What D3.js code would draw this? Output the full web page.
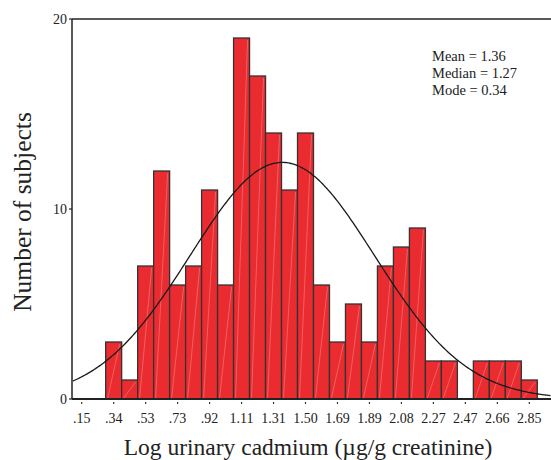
<!DOCTYPE html>
<html>
<head>
<meta charset="utf-8">
<script src="https://cdn.jsdelivr.net/npm/d3@7"></script>
<style>
  body { margin: 0; background: #fff; }
  svg text { font-family: "Liberation Serif", "DejaVu Serif", serif; fill: #222; }
</style>
</head>
<body>
<svg id="chart" width="551" height="460"></svg>
<script>
// histogram of log urinary cadmium, SPSS style with normal curve overlay

// bin centres (step ~0.0964), labels only on every other bin
var binStep = 0.09643;
var binFirst = 0.15;
var counts = [0, 0, 3, 1, 7, 12, 6, 7, 11, 6, 19, 17, 14, 11, 14, 6, 3, 5, 3, 7, 8, 9, 2, 2, 0, 2, 2, 2, 1];
var tickLabels = [".15", ".34", ".53", ".73", ".92", "1.11", "1.31", "1.50", "1.69", "1.89", "2.08", "2.27", "2.47", "2.66", "2.85"];
var yTicks = [0, 10, 20];
var stats = ["Mean = 1.36", "Median = 1.27", "Mode = 0.34"];
var curveMean = 1.36, curveSd = 0.556;

var svg = d3.select("#chart");

// careful: "top" is taken by window.top
var plotL = 72, plotR = 551, plotT = 19, plotB = 399;

// x: value -> px, .15 sits at 81.7 and 2.85 at 529.3
var x = d3.scaleLinear().domain([0.15, 2.85]).range([81.7, 529.3]);
var y = d3.scaleLinear().domain([0, 20]).range([plotB, plotT]);

var bins = counts.map(function(c, i) {
  var mid = binFirst + i * binStep;
  return { x0: mid - binStep / 2, x1: mid + binStep / 2, n: c };
});

// bars
var g = svg.append("g");
bins.filter(function(d) { return d.n > 0; }).forEach(function(d) {
  var bx = x(d.x0), bw = x(d.x1) - x(d.x0), by = y(d.n), bh = y(0) - y(d.n);
  g.append("rect")
    .attr("x", bx).attr("y", by)
    .attr("width", bw).attr("height", bh)
    .attr("fill", "#ea2c30")
    .attr("stroke", "#333").attr("stroke-width", 1.3);
  // faint diagonal seam, like the original rendering
  g.append("line")
    .attr("x1", bx + 2).attr("y1", y(0) - 1)
    .attr("x2", bx + bw - 2).attr("y2", by + 2)
    .attr("stroke", "#fff").attr("stroke-opacity", 0.35).attr("stroke-width", 0.7);
});

// normal curve
var total = d3.sum(counts);
var peak = total * binStep / (curveSd * Math.sqrt(2 * Math.PI));
var xs = d3.range(x.invert(plotL + 1), x.invert(plotR), 0.01);
var line = d3.line()
  .x(function(v) { return x(v); })
  .y(function(v) { var z = (v - curveMean) / curveSd; return y(peak * Math.exp(-z * z / 2)); })
  .curve(d3.curveBasis);
svg.append("path").datum(xs)
  .attr("d", line)
  .attr("fill", "none").attr("stroke", "#1a1a1a").attr("stroke-width", 1.3);

// frame: left axis, top line, bottom axis
svg.append("line").attr("x1", plotL).attr("x2", plotL).attr("y1", plotT).attr("y2", plotB)
  .attr("stroke", "#222").attr("stroke-width", 1.5);
svg.append("line").attr("x1", plotL).attr("x2", plotR).attr("y1", plotT).attr("y2", plotT)
  .attr("stroke", "#222").attr("stroke-width", 1.5);
svg.append("line").attr("x1", plotL).attr("x2", plotR).attr("y1", plotB).attr("y2", plotB)
  .attr("stroke", "#222").attr("stroke-width", 2);

// y ticks
yTicks.forEach(function(t) {
  svg.append("line").attr("x1", plotL - 3).attr("x2", plotL).attr("y1", y(t)).attr("y2", y(t))
    .attr("stroke", "#222").attr("stroke-width", 1.2);
  svg.append("text").attr("x", plotL - 5).attr("y", y(t) + 5)
    .attr("text-anchor", "end").attr("font-size", 14).text(t);
});

// x ticks: every other bin centre
tickLabels.forEach(function(lab, i) {
  var v = binFirst + i * 2 * binStep;
  svg.append("line").attr("x1", x(v)).attr("x2", x(v)).attr("y1", plotB + 3).attr("y2", plotB + 5)
    .attr("stroke", "#333").attr("stroke-width", 1.2);
  svg.append("text").attr("x", x(v)).attr("y", 423)
    .attr("text-anchor", "middle").attr("font-size", 14).text(lab);
});

// axis titles
svg.append("text").attr("x", 308).attr("y", 455)
  .attr("text-anchor", "middle").attr("font-size", 23.5)
  .text("Log urinary cadmium (\u00b5g/g creatinine)");
svg.append("text")
  .attr("transform", "translate(31,212) rotate(-90)")
  .attr("text-anchor", "middle").attr("font-size", 25.5)
  .text("Number of subjects");

// stats box
stats.forEach(function(s, i) {
  svg.append("text").attr("x", 432).attr("y", 61 + i * 17)
    .attr("font-size", 14.5).text(s);
});
</script>
</body>
</html>
